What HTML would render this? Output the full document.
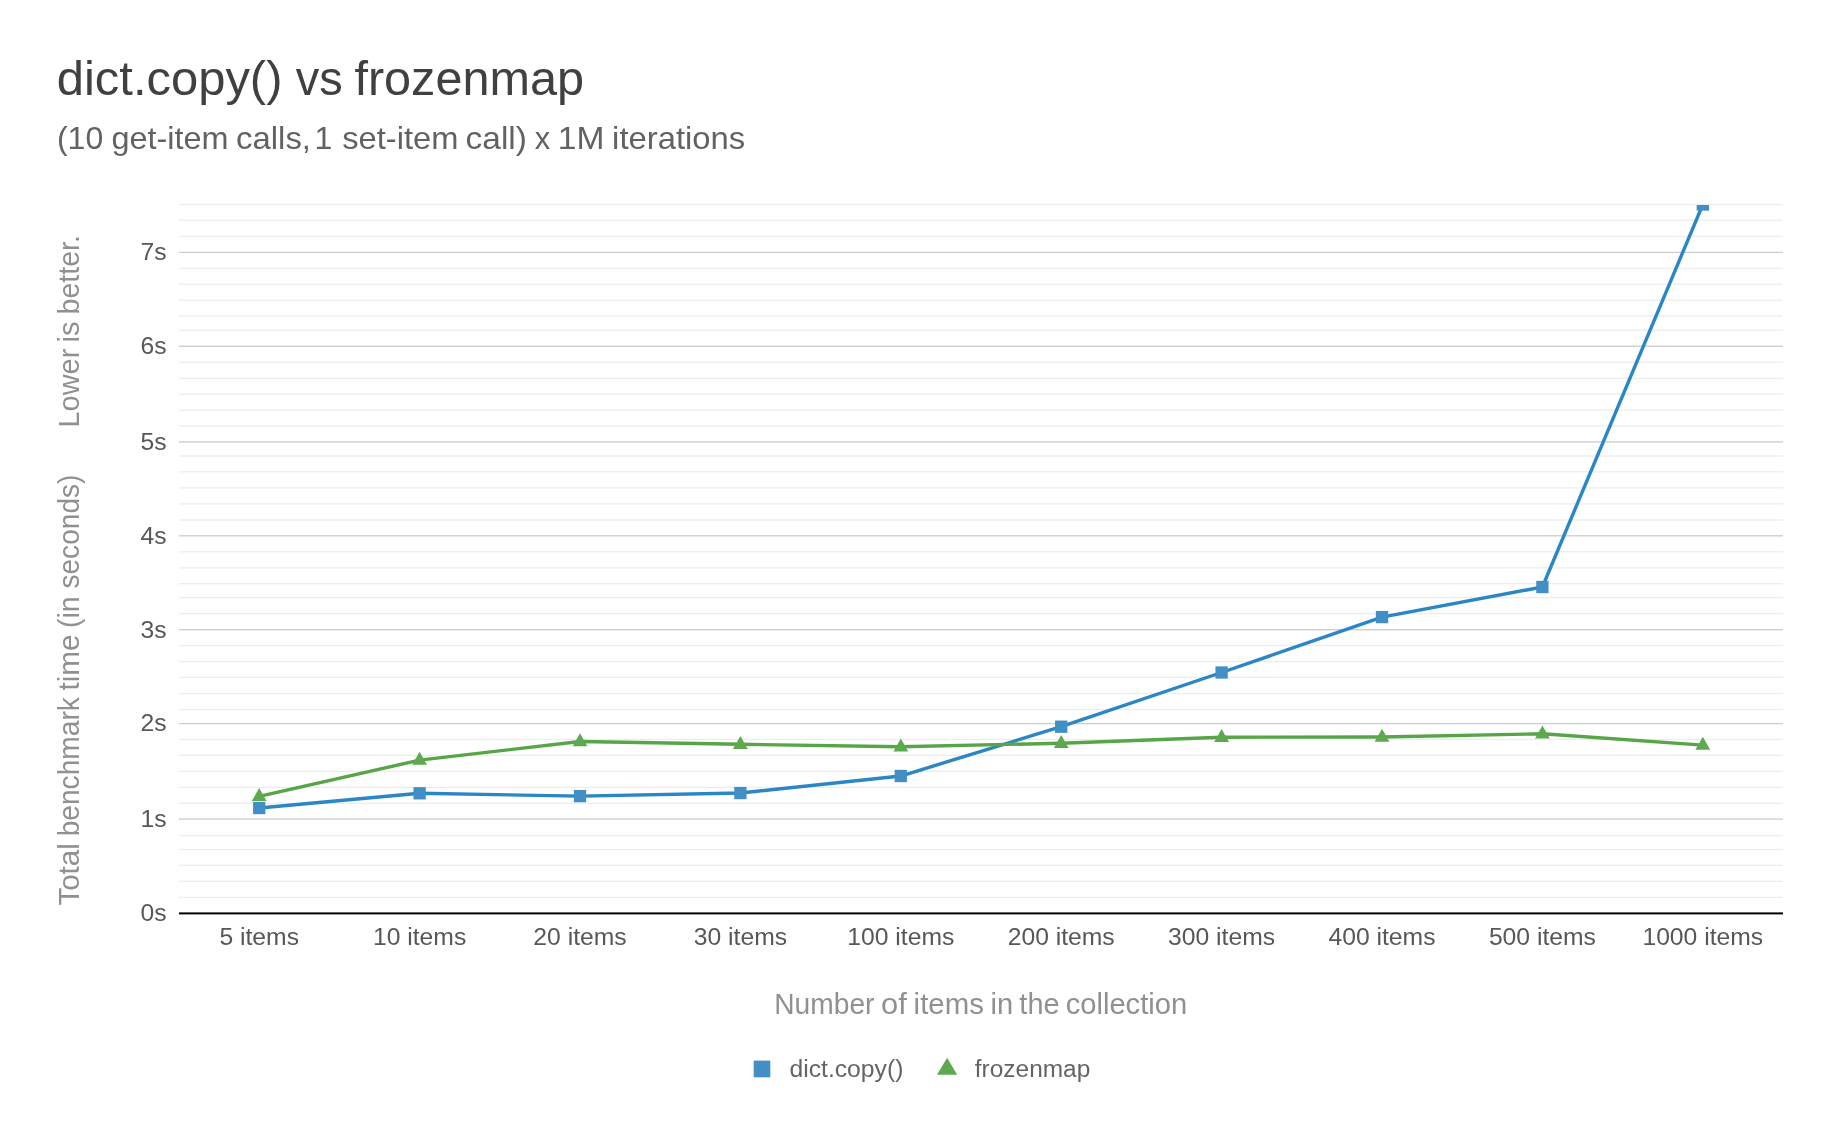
<!DOCTYPE html><html><head><meta charset="utf-8"><style>html,body{margin:0;padding:0;background:#fff;}svg{display:block;will-change:transform;}text{font-family:"Liberation Sans",sans-serif;}</style></head><body>
<svg width="1840" height="1138" viewBox="0 0 1840 1138">
<rect width="1840" height="1138" fill="#fff"/>
<rect x="179" y="896.80" width="1604" height="1.2" fill="#ececec"/>
<rect x="179" y="880.70" width="1604" height="1.2" fill="#ececec"/>
<rect x="179" y="864.70" width="1604" height="1.2" fill="#ececec"/>
<rect x="179" y="848.90" width="1604" height="1.2" fill="#ececec"/>
<rect x="179" y="835.00" width="1604" height="1.2" fill="#ececec"/>
<rect x="179" y="802.70" width="1604" height="1.2" fill="#ececec"/>
<rect x="179" y="786.80" width="1604" height="1.2" fill="#ececec"/>
<rect x="179" y="770.80" width="1604" height="1.2" fill="#ececec"/>
<rect x="179" y="754.70" width="1604" height="1.2" fill="#ececec"/>
<rect x="179" y="738.90" width="1604" height="1.2" fill="#ececec"/>
<rect x="179" y="708.90" width="1604" height="1.2" fill="#ececec"/>
<rect x="179" y="692.90" width="1604" height="1.2" fill="#ececec"/>
<rect x="179" y="676.80" width="1604" height="1.2" fill="#ececec"/>
<rect x="179" y="661.00" width="1604" height="1.2" fill="#ececec"/>
<rect x="179" y="644.90" width="1604" height="1.2" fill="#ececec"/>
<rect x="179" y="613.10" width="1604" height="1.2" fill="#ececec"/>
<rect x="179" y="597.10" width="1604" height="1.2" fill="#ececec"/>
<rect x="179" y="583.10" width="1604" height="1.2" fill="#ececec"/>
<rect x="179" y="567.30" width="1604" height="1.2" fill="#ececec"/>
<rect x="179" y="551.20" width="1604" height="1.2" fill="#ececec"/>
<rect x="179" y="519.40" width="1604" height="1.2" fill="#ececec"/>
<rect x="179" y="503.30" width="1604" height="1.2" fill="#ececec"/>
<rect x="179" y="487.30" width="1604" height="1.2" fill="#ececec"/>
<rect x="179" y="471.20" width="1604" height="1.2" fill="#ececec"/>
<rect x="179" y="455.40" width="1604" height="1.2" fill="#ececec"/>
<rect x="179" y="425.40" width="1604" height="1.2" fill="#ececec"/>
<rect x="179" y="409.50" width="1604" height="1.2" fill="#ececec"/>
<rect x="179" y="393.50" width="1604" height="1.2" fill="#ececec"/>
<rect x="179" y="377.70" width="1604" height="1.2" fill="#ececec"/>
<rect x="179" y="361.60" width="1604" height="1.2" fill="#ececec"/>
<rect x="179" y="329.60" width="1604" height="1.2" fill="#ececec"/>
<rect x="179" y="315.50" width="1604" height="1.2" fill="#ececec"/>
<rect x="179" y="299.60" width="1604" height="1.2" fill="#ececec"/>
<rect x="179" y="283.60" width="1604" height="1.2" fill="#ececec"/>
<rect x="179" y="267.80" width="1604" height="1.2" fill="#ececec"/>
<rect x="179" y="235.80" width="1604" height="1.2" fill="#ececec"/>
<rect x="179" y="219.60" width="1604" height="1.2" fill="#ececec"/>
<rect x="179" y="203.90" width="1604" height="1.2" fill="#ececec"/>
<rect x="179" y="818.40" width="1604" height="1.4" fill="#cfcfcf"/>
<rect x="179" y="722.90" width="1604" height="1.4" fill="#cfcfcf"/>
<rect x="179" y="629.00" width="1604" height="1.4" fill="#cfcfcf"/>
<rect x="179" y="535.10" width="1604" height="1.4" fill="#cfcfcf"/>
<rect x="179" y="441.20" width="1604" height="1.4" fill="#cfcfcf"/>
<rect x="179" y="345.50" width="1604" height="1.4" fill="#cfcfcf"/>
<rect x="179" y="251.70" width="1604" height="1.4" fill="#cfcfcf"/>
<rect x="179" y="912.4" width="1604" height="2.0" fill="#000"/>
<text x="56.75" y="95.4" font-size="48.5" fill="#404040" textLength="225.69" lengthAdjust="spacingAndGlyphs">dict.copy()</text>
<text x="295.74" y="95.4" font-size="48.5" fill="#404040" textLength="46.96" lengthAdjust="spacingAndGlyphs">vs</text>
<text x="354.41" y="95.4" font-size="48.5" fill="#404040" textLength="229.53" lengthAdjust="spacingAndGlyphs">frozenmap</text>
<text x="56.91" y="148.9" font-size="32" fill="#626262" textLength="46.34" lengthAdjust="spacingAndGlyphs">(10</text>
<text x="111.44" y="148.9" font-size="32" fill="#626262" textLength="117.10" lengthAdjust="spacingAndGlyphs">get-item</text>
<text x="236.10" y="148.9" font-size="32" fill="#626262" textLength="74.85" lengthAdjust="spacingAndGlyphs">calls,</text>
<text x="314.56" y="148.9" font-size="32" fill="#626262" textLength="17.80" lengthAdjust="spacingAndGlyphs">1</text>
<text x="342.29" y="148.9" font-size="32" fill="#626262" textLength="116.16" lengthAdjust="spacingAndGlyphs">set-item</text>
<text x="465.58" y="148.9" font-size="32" fill="#626262" textLength="61.29" lengthAdjust="spacingAndGlyphs">call)</text>
<text x="534.85" y="148.9" font-size="32" fill="#626262" textLength="15.48" lengthAdjust="spacingAndGlyphs">x</text>
<text x="557.84" y="148.9" font-size="32" fill="#626262" textLength="46.61" lengthAdjust="spacingAndGlyphs">1M</text>
<text x="612.11" y="148.9" font-size="32" fill="#626262" textLength="133.08" lengthAdjust="spacingAndGlyphs">iterations</text>
<text x="166.5" y="921.1" font-size="24.7" fill="#575757" text-anchor="end">0s</text>
<text x="166.5" y="826.9" font-size="24.7" fill="#575757" text-anchor="end">1s</text>
<text x="166.5" y="731.4" font-size="24.7" fill="#575757" text-anchor="end">2s</text>
<text x="166.5" y="637.5" font-size="24.7" fill="#575757" text-anchor="end">3s</text>
<text x="166.5" y="543.6" font-size="24.7" fill="#575757" text-anchor="end">4s</text>
<text x="166.5" y="449.7" font-size="24.7" fill="#575757" text-anchor="end">5s</text>
<text x="166.5" y="354.0" font-size="24.7" fill="#575757" text-anchor="end">6s</text>
<text x="166.5" y="260.2" font-size="24.7" fill="#575757" text-anchor="end">7s</text>
<text x="259.2" y="945" font-size="24.7" fill="#575757" text-anchor="middle">5 items</text>
<text x="419.6" y="945" font-size="24.7" fill="#575757" text-anchor="middle">10 items</text>
<text x="580.0" y="945" font-size="24.7" fill="#575757" text-anchor="middle">20 items</text>
<text x="740.4" y="945" font-size="24.7" fill="#575757" text-anchor="middle">30 items</text>
<text x="900.8" y="945" font-size="24.7" fill="#575757" text-anchor="middle">100 items</text>
<text x="1061.2" y="945" font-size="24.7" fill="#575757" text-anchor="middle">200 items</text>
<text x="1221.6" y="945" font-size="24.7" fill="#575757" text-anchor="middle">300 items</text>
<text x="1382.0" y="945" font-size="24.7" fill="#575757" text-anchor="middle">400 items</text>
<text x="1542.4" y="945" font-size="24.7" fill="#575757" text-anchor="middle">500 items</text>
<text x="1702.8" y="945" font-size="24.7" fill="#575757" text-anchor="middle">1000 items</text>
<text x="774.29" y="1013.9" font-size="28.6" fill="#909090" textLength="100.18" lengthAdjust="spacingAndGlyphs">Number</text>
<text x="881.10" y="1013.9" font-size="28.6" fill="#909090" textLength="25.75" lengthAdjust="spacingAndGlyphs">of</text>
<text x="913.63" y="1013.9" font-size="28.6" fill="#909090" textLength="70.23" lengthAdjust="spacingAndGlyphs">items</text>
<text x="990.45" y="1013.9" font-size="28.6" fill="#909090" textLength="22.63" lengthAdjust="spacingAndGlyphs">in</text>
<text x="1019.36" y="1013.9" font-size="28.6" fill="#909090" textLength="40.22" lengthAdjust="spacingAndGlyphs">the</text>
<text x="1065.66" y="1013.9" font-size="28.6" fill="#909090" textLength="121.53" lengthAdjust="spacingAndGlyphs">collection</text>
<g transform="translate(79.2,905.0) rotate(-90)">
<text x="-0.63" y="0" font-size="28.6" fill="#909090" textLength="62.41" lengthAdjust="spacingAndGlyphs">Total</text>
<text x="68.69" y="0" font-size="28.6" fill="#909090" textLength="139.17" lengthAdjust="spacingAndGlyphs">benchmark</text>
<text x="214.55" y="0" font-size="28.6" fill="#909090" textLength="55.96" lengthAdjust="spacingAndGlyphs">time</text>
<text x="277.03" y="0" font-size="28.6" fill="#909090" textLength="31.72" lengthAdjust="spacingAndGlyphs">(in</text>
<text x="316.42" y="0" font-size="28.6" fill="#909090" textLength="114.02" lengthAdjust="spacingAndGlyphs">seconds)</text>
<text x="477.53" y="0" font-size="28.6" fill="#909090" textLength="78.75" lengthAdjust="spacingAndGlyphs">Lower</text>
<text x="562.44" y="0" font-size="28.6" fill="#909090" textLength="21.11" lengthAdjust="spacingAndGlyphs">is</text>
<text x="590.60" y="0" font-size="28.6" fill="#909090" textLength="79.36" lengthAdjust="spacingAndGlyphs">better.</text>
</g>
<defs><clipPath id="ca"><rect x="179" y="205" width="1604" height="728.3"/></clipPath></defs>
<g clip-path="url(#ca)">
<polyline points="259.20,808.00 419.60,793.30 580.00,796.10 740.40,793.05 900.80,776.00 1061.20,726.70 1221.60,672.50 1382.00,617.10 1542.40,587.00 1702.80,204.50" fill="none" stroke="#2a86c4" stroke-width="3.4" stroke-linejoin="round"/>
<polyline points="259.20,796.40 419.60,760.10 580.00,741.50 740.40,744.30 900.80,746.80 1061.20,743.20 1221.60,737.20 1382.00,737.00 1542.40,733.80 1702.80,745.10" fill="none" stroke="#57a546" stroke-width="3.4" stroke-linejoin="round"/>
<path d="M259.20,788.10 L266.60,801.10 L251.80,801.10 Z" fill="#5ea94f"/>
<path d="M419.60,751.80 L427.00,764.80 L412.20,764.80 Z" fill="#5ea94f"/>
<path d="M580.00,733.20 L587.40,746.20 L572.60,746.20 Z" fill="#5ea94f"/>
<path d="M740.40,736.00 L747.80,749.00 L733.00,749.00 Z" fill="#5ea94f"/>
<path d="M900.80,738.50 L908.20,751.50 L893.40,751.50 Z" fill="#5ea94f"/>
<path d="M1061.20,734.90 L1068.60,747.90 L1053.80,747.90 Z" fill="#5ea94f"/>
<path d="M1221.60,728.90 L1229.00,741.90 L1214.20,741.90 Z" fill="#5ea94f"/>
<path d="M1382.00,728.70 L1389.40,741.70 L1374.60,741.70 Z" fill="#5ea94f"/>
<path d="M1542.40,725.50 L1549.80,738.50 L1535.00,738.50 Z" fill="#5ea94f"/>
<path d="M1702.80,736.80 L1710.20,749.80 L1695.40,749.80 Z" fill="#5ea94f"/>
<rect x="253.05" y="801.85" width="12.3" height="12.3" fill="#418fc5"/>
<rect x="413.45" y="787.15" width="12.3" height="12.3" fill="#418fc5"/>
<rect x="573.85" y="789.95" width="12.3" height="12.3" fill="#418fc5"/>
<rect x="734.25" y="786.90" width="12.3" height="12.3" fill="#418fc5"/>
<rect x="894.65" y="769.85" width="12.3" height="12.3" fill="#418fc5"/>
<rect x="1055.05" y="720.55" width="12.3" height="12.3" fill="#418fc5"/>
<rect x="1215.45" y="666.35" width="12.3" height="12.3" fill="#418fc5"/>
<rect x="1375.85" y="610.95" width="12.3" height="12.3" fill="#418fc5"/>
<rect x="1536.25" y="580.85" width="12.3" height="12.3" fill="#418fc5"/>
<rect x="1696.65" y="198.35" width="12.3" height="12.3" fill="#418fc5"/>
</g>
<rect x="753.7" y="1060.6" width="16.6" height="16.7" fill="#418fc5"/>
<text x="789.5" y="1076.8" font-size="24.7" fill="#646464">dict.copy()</text>
<path d="M947.1,1057.7 L957.2,1074.8 L937,1074.8 Z" fill="#5ea94f"/>
<text x="974.8" y="1076.8" font-size="24.7" fill="#646464" textLength="115.5" lengthAdjust="spacingAndGlyphs">frozenmap</text>
</svg></body></html>
